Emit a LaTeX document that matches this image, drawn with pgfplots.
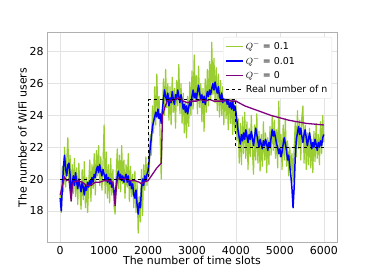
\documentclass[border=0pt]{standalone}
\usepackage{pgfplots}
\pgfplotsset{compat=1.18}
\usepackage{fontspec}
\setmainfont{DejaVu Sans}
\definecolor{ygreen}{HTML}{9ACD32}
\definecolor{mpurple}{HTML}{800080}
\definecolor{gridc}{HTML}{E3E3E3}
\definecolor{framec}{HTML}{B0B0B0}
\begin{document}
\begin{tikzpicture}
\useasboundingbox (-47bp,-30.3bp) rectangle (327bp,242.7bp);
\begin{axis}[
  at={(0,0)}, anchor=south west,
  scale only axis, width=290bp, height=210bp,
  xmin=-300, xmax=6300, ymin=16.0, ymax=29.2,
  xtick={0,1000,2000,3000,4000,5000,6000},
  ytick={18,20,22,24,26,28},
  scaled x ticks=false,
  /pgf/number format/assume math mode=true,
  /pgf/number format/1000 sep={},
  tick label style={font=\fontsize{11}{13}\selectfont},
  label style={font=\fontsize{11}{13}\selectfont},
  xlabel={The number of time slots},
  ylabel={The number of WiFi users},
  xlabel style={yshift=5pt},
  ylabel style={yshift=-4pt},
  grid=major, major grid style={gridc, line width=0.6pt},
  axis line style={framec, line width=0.8pt},
  tick style={draw=none},
  legend style={at={(0.983,0.98)}, anchor=north east, draw=gridc, fill=white, rounded corners=2pt, font=\fontsize{9.5}{11}\selectfont, row sep=1pt, inner sep=2.5pt},
  legend image post style={line width=1.2pt},
  legend cell align=left,
]
\addplot[ygreen, line width=1.2pt, line join=round] coordinates {
(0,19.0)(25,17.9)(50,20.8)(75,19.2)(100,22.0)(125,19.5)(150,21.2)(175,22.6)(200,19.8)(225,21.5)(250,18.6)(275,20.9)(300,19.1)(325,21.3)(350,18.9)(375,20.7)(400,18.4)(425,21.0)(450,19.3)(475,18.1)(500,20.6)(525,18.7)(550,21.1)(575,18.2)(600,20.1)(625,17.9)(650,19.8)(675,21.2)(700,18.6)(725,20.9)(750,19.4)(775,21.6)(800,19.0)(825,21.8)(850,20.2)(875,22.1)(900,19.6)(925,21.4)(950,19.3)(975,21.0)(1000,23.4)(1025,19.1)(1050,21.7)(1075,18.8)(1100,20.9)(1125,18.5)(1150,21.3)(1175,19.0)(1200,20.6)(1225,18.3)(1250,17.8)(1275,20.4)(1300,21.9)(1325,19.4)(1350,21.5)(1375,19.2)(1400,22.1)(1425,19.7)(1450,21.2)(1475,18.8)(1500,20.9)(1525,19.5)(1550,21.6)(1575,18.6)(1600,20.8)(1625,18.9)(1650,20.3)(1675,18.2)(1700,20.5)(1725,17.9)(1750,19.8)(1775,16.6)(1800,18.9)(1825,17.3)(1850,20.6)(1875,17.7)(1900,20.9)(1925,19.3)(1950,21.4)(1975,19.6)
(2000,21.0)(2025,20.2)(2050,22.8)(2075,21.5)(2100,24.6)(2125,22.9)(2150,25.8)(2175,23.4)(2200,26.6)(2225,23.8)(2250,25.2)(2275,22.6)(2300,20.0)(2325,24.1)(2350,26.3)(2375,24.0)(2400,26.9)(2425,24.5)(2450,26.0)(2475,23.7)(2500,25.8)(2525,23.4)(2550,26.4)(2575,24.2)(2600,25.7)(2625,23.2)(2650,26.2)(2675,24.6)(2700,27.2)(2725,24.1)(2750,26.0)(2775,23.5)(2800,25.4)(2825,22.9)(2850,24.8)(2875,22.6)(2900,25.2)(2925,23.3)(2950,26.1)(2975,24.0)(3000,26.8)(3025,24.4)(3050,27.8)(3075,24.9)(3100,26.5)(3125,24.1)(3150,27.1)(3175,24.5)(3200,26.0)(3225,23.6)(3250,25.7)(3275,23.0)(3300,26.3)(3325,24.2)(3350,26.9)(3375,24.6)(3400,27.4)(3425,25.0)(3450,28.6)(3475,25.3)(3500,27.6)(3525,24.8)(3550,27.0)(3575,24.3)(3600,26.6)(3625,23.9)(3650,26.2)(3675,24.0)(3700,25.8)(3725,23.4)(3750,26.4)(3775,23.8)(3800,25.6)(3825,23.1)(3850,25.9)(3875,23.5)(3900,25.2)(3925,22.8)(3950,25.0)(3975,23.0)
(4000,24.6)(4025,22.4)(4050,23.8)(4075,21.0)(4100,23.5)(4125,20.9)(4150,23.9)(4175,21.6)(4200,24.2)(4225,21.3)(4250,23.6)(4275,20.6)(4300,23.2)(4325,21.4)(4350,24.0)(4375,21.8)(4400,20.3)(4425,23.4)(4450,21.2)(4475,24.1)(4500,21.0)(4525,23.0)(4550,20.5)(4575,22.8)(4600,20.8)(4625,23.6)(4650,21.2)(4675,22.9)(4700,20.4)(4725,22.6)(4750,20.9)(4775,23.3)(4800,21.5)(4825,24.0)(4850,21.8)(4875,23.7)(4900,21.3)(4925,23.1)(4950,20.7)(4975,24.9)(5000,21.4)(5025,22.8)(5050,20.6)(5075,23.4)(5100,21.2)(5125,23.8)(5150,20.8)(5175,22.4)(5200,20.2)(5225,22.0)(5250,20.5)(5275,21.6)(5300,19.8)(5325,21.9)(5350,23.6)(5375,21.4)(5400,24.3)(5425,21.9)(5450,23.7)(5475,21.2)(5500,23.9)(5525,24.6)(5550,21.0)(5575,23.4)(5600,20.6)(5625,22.9)(5650,20.9)(5675,23.2)(5700,20.7)(5725,22.5)(5750,20.4)(5775,23.0)(5800,21.1)(5825,23.5)(5850,21.3)(5875,22.8)(5900,20.9)(5925,23.6)(5950,21.6)(5975,24.0)(6000,22.3)
};
\addlegendentry{$Q^-$ = 0.1}
\addplot[blue, line width=1.5pt, line join=round] coordinates {
(0,18.8)(25,18.0)(50,19.5)(75,20.8)(100,21.5)(125,20.6)(150,20.2)(175,20.9)(200,21.0)(225,20.3)(250,19.0)(275,19.8)(300,20.2)(325,19.6)(350,20.4)(375,19.8)(400,19.4)(425,20.0)(450,19.6)(475,19.2)(500,19.8)(525,19.5)(550,19.0)(575,19.6)(600,19.3)(625,19.8)(650,19.5)(675,19.9)(700,19.6)(725,20.1)(750,19.8)(775,20.3)(800,20.1)(825,20.6)(850,20.8)(875,20.4)(900,20.9)(925,20.5)(950,20.2)(975,20.6)(1000,20.3)(1025,19.9)(1050,20.3)(1075,19.8)(1100,20.1)(1125,19.7)(1150,20.0)(1175,19.5)(1200,19.7)(1225,19.2)(1250,18.9)(1275,19.6)(1300,20.2)(1325,20.5)(1350,20.0)(1375,20.3)(1400,19.9)(1425,20.2)(1450,19.8)(1475,20.1)(1500,20.3)(1525,19.8)(1550,20.2)(1575,19.6)(1600,19.9)(1625,19.4)(1650,19.7)(1675,19.0)(1700,18.8)(1725,19.3)(1750,18.4)(1775,17.8)(1800,18.5)(1825,18.2)(1850,19.4)(1875,20.0)(1900,19.6)(1925,20.2)(1950,19.9)(1975,20.3)
(2000,20.5)(2025,21.2)(2050,22.0)(2075,22.6)(2100,23.3)(2125,23.6)(2150,23.9)(2175,24.2)(2200,23.9)(2225,24.4)(2250,23.8)(2275,24.1)(2300,23.5)(2325,24.3)(2350,25.0)(2375,25.6)(2400,25.2)(2425,24.9)(2450,25.4)(2475,24.6)(2500,25.1)(2525,24.8)(2550,25.5)(2575,25.0)(2600,24.7)(2625,25.3)(2650,25.0)(2675,25.6)(2700,25.2)(2725,24.8)(2750,25.3)(2775,24.9)(2800,24.4)(2825,24.7)(2850,24.2)(2875,24.6)(2900,24.1)(2925,24.5)(2950,24.9)(2975,24.6)(3000,25.2)(3025,25.6)(3050,25.1)(3075,25.4)(3100,25.0)(3125,25.5)(3150,25.9)(3175,25.4)(3200,25.0)(3225,25.3)(3250,24.8)(3275,25.2)(3300,24.7)(3325,25.1)(3350,25.5)(3375,25.2)(3400,25.6)(3425,25.3)(3450,25.7)(3475,26.0)(3500,25.6)(3525,26.1)(3550,25.7)(3575,25.4)(3600,25.8)(3625,25.2)(3650,25.0)(3675,25.4)(3700,24.8)(3725,25.3)(3750,24.9)(3775,25.2)(3800,24.7)(3825,25.0)(3850,24.5)(3875,24.8)(3900,24.4)(3925,24.9)(3950,24.3)(3975,24.6)
(4000,24.2)(4025,23.6)(4050,23.0)(4075,22.6)(4100,22.2)(4125,22.8)(4150,22.4)(4175,22.9)(4200,22.5)(4225,23.1)(4250,22.7)(4275,22.3)(4300,22.8)(4325,22.5)(4350,23.0)(4375,22.6)(4400,22.1)(4425,22.6)(4450,23.2)(4475,22.8)(4500,22.4)(4525,22.0)(4550,22.5)(4575,22.2)(4600,21.9)(4625,22.4)(4650,22.1)(4675,22.5)(4700,22.2)(4725,21.8)(4750,22.3)(4775,22.0)(4800,22.6)(4825,23.1)(4850,22.7)(4875,23.0)(4900,22.6)(4925,22.2)(4950,22.0)(4975,21.6)(5000,21.9)(5025,21.4)(5050,21.7)(5075,22.2)(5100,22.6)(5125,22.2)(5150,21.8)(5175,21.2)(5200,21.5)(5225,20.8)(5250,20.2)(5275,19.4)(5300,18.2)(5325,19.5)(5350,21.4)(5375,22.5)(5400,22.9)(5425,23.3)(5450,22.8)(5475,23.2)(5500,22.7)(5525,22.3)(5550,22.8)(5575,23.1)(5600,22.6)(5625,22.1)(5650,22.5)(5675,22.9)(5700,22.4)(5725,21.9)(5750,22.3)(5775,22.0)(5800,22.5)(5825,22.2)(5850,21.8)(5875,22.3)(5900,22.0)(5925,22.4)(5950,22.1)(5975,22.6)(6000,22.8)
};
\addlegendentry{$Q^-$ = 0.01}
\addplot[mpurple, line width=1.3pt] coordinates {
(0,19.0)(50,19.6)(100,20.1)(150,19.9)(200,20.0)(250,18.6)(275,19.5)(300,19.8)(400,19.9)(500,19.8)(600,19.6)(700,19.6)(800,19.8)(900,19.8)(1000,19.9)(1100,19.9)(1200,19.8)(1250,18.3)(1275,19.3)(1300,20.0)(1400,20.0)(1500,20.0)(1600,19.9)(1700,19.9)(1800,19.8)(1850,19.7)(1900,19.8)(2000,19.9)(2100,20.3)(2200,20.7)(2300,21.0)(2330,24.0)(2380,24.5)(2450,25.0)(2500,24.9)(2600,25.0)(2700,25.1)(2800,24.9)(2900,24.8)(3000,24.9)(3100,24.9)(3200,25.0)(3300,24.9)(3400,25.0)(3500,24.9)(3600,24.9)(3700,24.9)(3800,25.0)(3900,24.9)(4000,24.9)(4200,24.6)(4400,24.4)(4600,24.2)(4800,24.0)(5000,23.85)(5200,23.7)(5400,23.6)(5600,23.5)(5800,23.45)(6000,23.4)
};
\addlegendentry{$Q^-$ = 0}
\addplot[black, dashed, line width=0.9pt] coordinates {
(0,20)(2000,20)(2000,25)(4000,25)(4000,22)(6000,22)
};
\addlegendentry{Real number of n}
\end{axis}
\end{tikzpicture}
\end{document}
